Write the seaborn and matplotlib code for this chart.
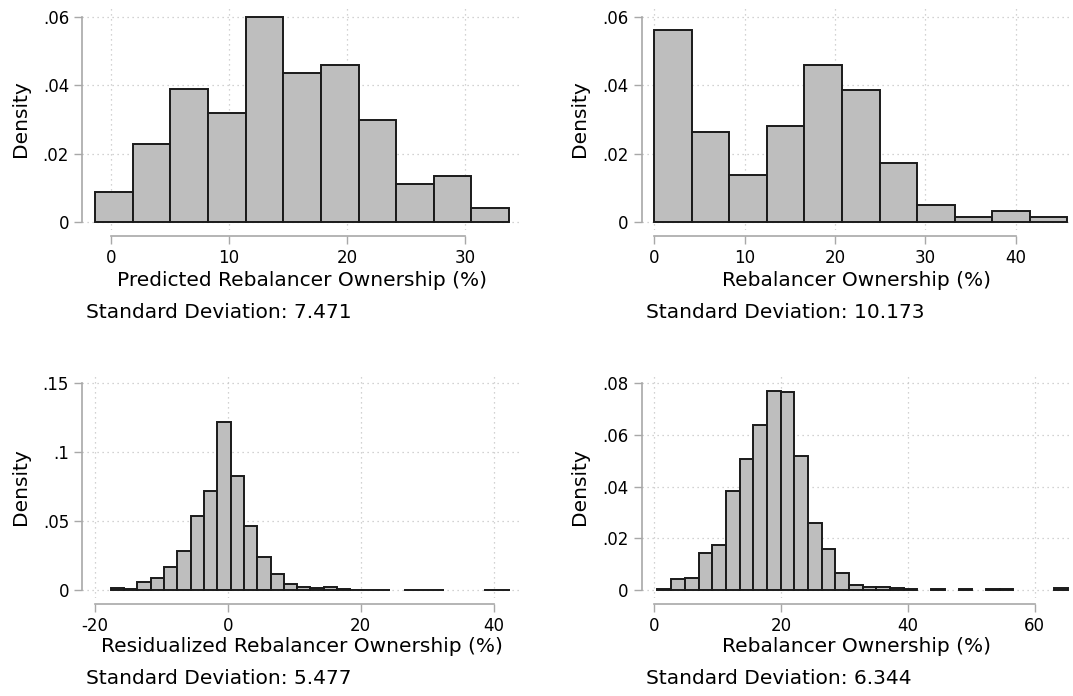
import numpy as np
import pandas as pd
import matplotlib
matplotlib.use("Agg")
import matplotlib.pyplot as plt
import seaborn as sns

# ---------------- data ----------------
# Panel 1: Predicted Rebalancer Ownership (%)
pred_range = (-1.35, 33.71)
pred_density = [0.0089, 0.0227, 0.0389, 0.0320, 0.0598, 0.0435,
                0.0460, 0.0297, 0.0113, 0.0136, 0.0043]

# Panel 2: Rebalancer Ownership (%)
own_range = (0.0, 45.7)
own_density = [0.0562, 0.0262, 0.0139, 0.0281, 0.0458, 0.0386,
               0.0174, 0.0050, 0.00145, 0.0033, 0.00145]

# Panel 3: Residualized Rebalancer Ownership (%)
resid_range = (-17.61, 42.5)
resid_density = [0.0013, 0.0010, 0.0056, 0.0087, 0.0169, 0.0285, 0.0535,
                 0.0716, 0.1219, 0.0827, 0.0467, 0.0240, 0.0119, 0.0044,
                 0.0024, 0.0012, 0.0019, 0.0009, 0.0003, 0.0003, 0.0003,
                 0.0, 0.0003, 0.0003, 0.0003, 0.0, 0.0, 0.0, 0.0003, 0.0003]

# Panel 4: Rebalancer Ownership (%) (second sample)
own2_range = (0.54, 65.26)
own2_density = [0.0002, 0.0041, 0.0045, 0.0145, 0.0173, 0.0383, 0.0508,
                0.0639, 0.0769, 0.0765, 0.0520, 0.0261, 0.0159, 0.0067,
                0.0021, 0.0013, 0.0013, 0.0009, 0.0005, 0.0, 0.0002, 0.0,
                0.0002, 0.0, 0.0002, 0.0002, 0.0, 0.0, 0.0, 0.0009]

xlabels = ["Predicted Rebalancer Ownership (%)",
           "Rebalancer Ownership (%)",
           "Residualized Rebalancer Ownership (%)",
           "Rebalancer Ownership (%)"]
sd_texts = ["Standard Deviation: 7.471",
            "Standard Deviation: 10.173",
            "Standard Deviation: 5.477",
            "Standard Deviation: 6.344"]

x_ticks = [[0, 10, 20, 30], [0, 10, 20, 30, 40], [-20, 0, 20, 40], [0, 20, 40, 60]]
x_ticklabels = [["0", "10", "20", "30"], ["0", "10", "20", "30", "40"],
                ["-20", "0", "20", "40"], ["0", "20", "40", "60"]]
y_ticks = [[0, 0.02, 0.04, 0.06], [0, 0.02, 0.04, 0.06],
           [0, 0.05, 0.10, 0.15], [0, 0.02, 0.04, 0.06, 0.08]]
y_ticklabels = [["0", ".02", ".04", ".06"], ["0", ".02", ".04", ".06"],
                ["0", ".05", ".1", ".15"], ["0", ".02", ".04", ".06", ".08"]]

# ---------------- layout ----------------
W, H = 1073, 696
# axes boxes in pixels (left, right, top, bottom), top-down coordinates
boxes = [(82, 522, 7, 230), (641.5, 1071, 7, 230),
         (82, 522, 375, 598), (641.5, 1071, 375, 598)]
xlims = [(-2.46, 34.8), (-1.43, 46.13), (-21.93, 44.27), (-1.98, 65.73)]
ylims = [(-0.00224, 0.06277), (-0.00224, 0.06277), (-0.0058, 0.156), (-0.0031, 0.0832)]
sd_pos = [(85.8, 313), (645.6, 313), (85.8, 679), (645.6, 679)]
xlabel_center_y = [280, 280, 647, 647]
ylabel_center_x = [20.8, 579.2, 20.8, 579.2]

sns.set_style("white")
plt.rcParams["font.family"] = ["DejaVu Sans"]
plt.rcParams["axes.unicode_minus"] = False

fig = plt.figure(figsize=(W / 100, H / 100), dpi=100)

ranges = [pred_range, own_range, resid_range, own2_range]
dens = [pred_density, own_density, resid_density, own2_density]

axis_gray = "#a8a8a8"
for i in range(4):
    l, r, t, b = boxes[i]
    ax = fig.add_axes([l / W, 1 - b / H, (r - l) / W, (b - t) / H])
    d = np.asarray(dens[i], dtype=float)
    edges = np.linspace(ranges[i][0], ranges[i][1], len(d) + 1)
    centers = (edges[:-1] + edges[1:]) / 2
    df = pd.DataFrame({"x": centers, "w": d})
    sns.histplot(data=df, x="x", weights="w", bins=edges.tolist(), stat="count",
                 color="#bebebe", edgecolor="#1a1a1a", linewidth=1.4,
                 alpha=1, ax=ax, zorder=3)
    for p in ax.patches:
        if p.get_height() <= 0:
            p.set_visible(False)

    ax.set_xlim(*xlims[i])
    ax.set_ylim(*ylims[i])
    ax.set_xticks(x_ticks[i])
    ax.set_xticklabels(x_ticklabels[i])
    ax.set_yticks(y_ticks[i])
    ax.set_yticklabels(y_ticklabels[i])

    ax.grid(True, linestyle=(0, (1, 3)), color="#c4c4c4", linewidth=0.9)
    ax.set_axisbelow(True)

    for s in ["top", "right"]:
        ax.spines[s].set_visible(False)
    ax.spines["left"].set_color(axis_gray)
    ax.spines["left"].set_linewidth(1.2)
    ax.spines["left"].set_bounds(y_ticks[i][0], y_ticks[i][-1])
    ax.spines["bottom"].set_color(axis_gray)
    ax.spines["bottom"].set_linewidth(1.2)
    ax.spines["bottom"].set_position(("outward", 4.2))
    ax.spines["bottom"].set_bounds(x_ticks[i][0], x_ticks[i][-1])

    ax.tick_params(axis="both", which="major", bottom=True, left=True,
                   direction="out", length=5.8, width=1,
                   color=axis_gray, labelsize=12, labelcolor="black", pad=3.5)

    ax.set_xlabel(xlabels[i], fontsize=14.5, color="black")
    ax.set_ylabel("Density", fontsize=14.5, color="black")
    ax.xaxis.label.set_va("center")
    ax.yaxis.label.set_va("center")
    ax.xaxis.set_label_coords(0.5, (b - xlabel_center_y[i]) / (b - t))
    ax.yaxis.set_label_coords((ylabel_center_x[i] - l) / (r - l), 0.5)

    fig.text(sd_pos[i][0] / W, 1 - sd_pos[i][1] / H, sd_texts[i],
             fontsize=14.5, ha="left", va="center", color="black")

fig.savefig("out.png", dpi=100, facecolor="white")
